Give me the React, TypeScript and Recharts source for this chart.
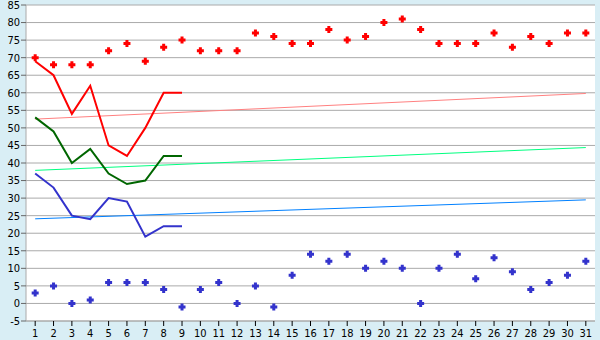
import {
  ComposedChart,
  Line,
  XAxis,
  YAxis,
  CartesianGrid,
} from 'recharts'

const days = [
  '1', '2', '3', '4', '5', '6', '7', '8', '9', '10', '11', '12', '13', '14', '15', '16',
  '17', '18', '19', '20', '21', '22', '23', '24', '25', '26', '27', '28', '29', '30', '31',
]

// scatter points (top / bottom)
const highPoints = [
  70, 68, 68, 68, 72, 74, 69, 73, 75, 72, 72, 72, 77, 76, 74, 74,
  78, 75, 76, 80, 81, 78, 74, 74, 74, 77, 73, 76, 74, 77, 77,
]
const lowPoints = [
  3, 5, 0, 1, 6, 6, 6, 4, -1, 4, 6, 0, 5, -1, 8, 14,
  12, 14, 10, 12, 10, 0, 10, 14, 7, 13, 9, 4, 6, 8, 12,
]

// lines for the first nine days
const redLine = [69, 65, 54, 62, 45, 42, 50, 60, 60]
const greenLine = [53, 49, 40, 44, 37, 34, 35, 42, 42]
const blueLine = [37, 33, 25, 24, 30, 29, 19, 22, 22]

// trend lines: [first day, last day]
const redTrend = [52.5, 59.8]
const greenTrend = [37.9, 44.4]
const blueTrend = [24.1, 29.5]

const yTicks = [-5, 0, 5, 10, 15, 20, 25, 30, 35, 40, 45, 50, 55, 60, 65, 70, 75, 80, 85]

const ends = (pair: number[], i: number) =>
  i === 0 ? pair[0] : i === days.length - 1 ? pair[1] : null

const data = days.map((day, i) => ({
  day,
  high: highPoints[i],
  low: lowPoints[i],
  red: i < redLine.length ? redLine[i] : null,
  green: i < greenLine.length ? greenLine[i] : null,
  blue: i < blueLine.length ? blueLine[i] : null,
  redTrend: ends(redTrend, i),
  greenTrend: ends(greenTrend, i),
  blueTrend: ends(blueTrend, i),
}))

const Plus = (props: any) => {
  const { cx, cy, fill } = props
  if (cx == null || cy == null || props.value == null) return null
  return (
    <path
      d={`M${cx - 1.5},${cy - 3.5}h3v2h2v3h-2v2h-3v-2h-2v-3h2z`}
      fill={fill}
    />
  )
}

const tickStyle = {
  fill: '#000',
  fontSize: 11,
  fontFamily: '"DejaVu Sans Condensed", "Liberation Sans", sans-serif',
}

export default function App() {
  return (
    <div style={{ position: 'absolute', left: 0, top: 0, width: 600, height: 340, background: '#d9eef5' }}>
      <ComposedChart
        width={600}
        height={340}
        data={data}
        margin={{ top: 5, right: 5, left: 0, bottom: 0 }}
      >
        <CartesianGrid vertical={false} stroke="#aaaaaa" fill="#ffffff" />
        <XAxis
          dataKey="day"
          scale="band"
          height={19}
          stroke="#aaaaaa"
          tickSize={5}
          tickMargin={3}
          tick={tickStyle}
          tickLine={{ stroke: '#000' }}
          interval={0}
        />
        <YAxis
          domain={[-5, 85]}
          ticks={yTicks}
          width={26}
          stroke="#aaaaaa"
          tickSize={5}
          tickMargin={1}
          tick={tickStyle}
          tickLine={{ stroke: '#666' }}
          interval={0}
        />
        <YAxis yAxisId="r" orientation="right" width={0} tick={false} stroke="#aaaaaa" domain={[-5, 85]} />
        <Line dataKey="redTrend" stroke="#ff8080" strokeWidth={1} dot={false} connectNulls isAnimationActive={false} />
        <Line dataKey="greenTrend" stroke="#00ff80" strokeWidth={1} dot={false} connectNulls isAnimationActive={false} />
        <Line dataKey="blueTrend" stroke="#0080ff" strokeWidth={1} dot={false} connectNulls isAnimationActive={false} />
        <Line dataKey="red" stroke="#ff0000" strokeWidth={2} dot={false} isAnimationActive={false} />
        <Line dataKey="green" stroke="#006600" strokeWidth={2} dot={false} isAnimationActive={false} />
        <Line dataKey="blue" stroke="#3333cc" strokeWidth={2} dot={false} isAnimationActive={false} />
        <Line dataKey="high" stroke="none" fill="#ff0000" dot={<Plus fill="#ff0000" />} activeDot={false} isAnimationActive={false} />
        <Line dataKey="low" stroke="none" fill="#3333cc" dot={<Plus fill="#3333cc" />} activeDot={false} isAnimationActive={false} />
      </ComposedChart>
    </div>
  )
}
